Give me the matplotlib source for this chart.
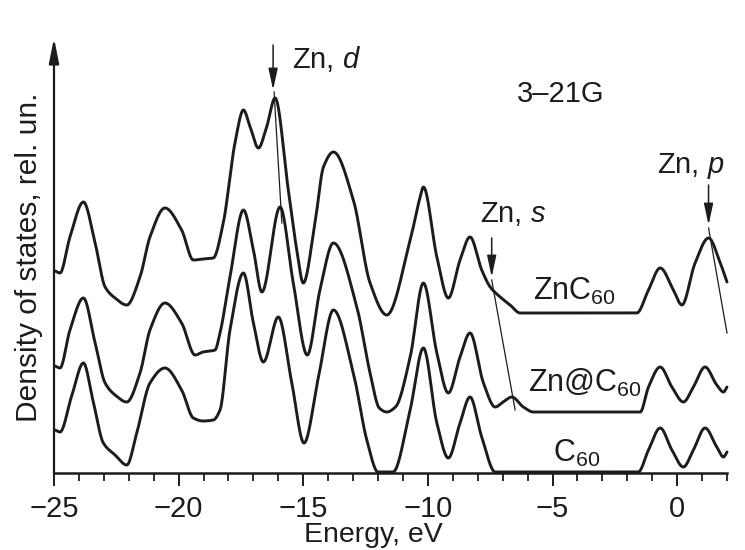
import numpy as np
import matplotlib
matplotlib.use('Agg')
import matplotlib.pyplot as plt
from matplotlib.ticker import MultipleLocator

plt.rcParams['font.family'] = 'Liberation Sans'
plt.rcParams['mathtext.fontset'] = 'custom'
plt.rcParams['mathtext.rm'] = 'Liberation Sans'
plt.rcParams['mathtext.it'] = 'Liberation Sans:italic'
plt.rcParams['mathtext.default'] = 'regular'

INK = '#1c1c1c'

# DOS curves (3-21G), sampled at peaks, troughs and flanks; energies in eV
energy_c60 = [-24.95, -24.76, -24.28, -23.82, -23.44, -23.02, -22.55, -22.08, -21.68, -21.15,
              -20.55, -19.88, -19.41, -19.02, -18.61, -18.34, -17.94, -17.40, -17.00, -16.60,
              -16.00, -15.46, -14.97, -14.39, -13.79, -12.99, -12.45, -12.00, -11.40, -10.72,
              -10.18, -9.64, -9.18, -8.71, -8.31, -7.84, -7.30, -1.56, -1.15, -0.68,
              -0.21, 0.25, 0.65, 1.12, 1.59, 1.86, 2.00]
dos_c60 = [4.3, 4.1, 7.8, 11.0, 7.3, 3.0, 1.8, 0.8, 4.0, 9.0,
           10.5, 8.3, 5.5, 5.2, 5.3, 6.3, 14.3, 20.0, 15.0, 11.1,
           15.6, 9.0, 3.0, 9.6, 16.3, 10.0, 3.3, 0.1, 0.1, 6.2,
           12.5, 5.0, 1.5, 5.0, 7.6, 3.6, 0.1, 0.1, 2.3, 4.5,
           2.3, 0.6, 2.3, 4.5, 2.6, 1.6, 2.1]

energy_zn_in = [-24.95, -24.76, -24.36, -23.82, -23.35, -22.95, -22.55, -22.08, -21.55, -21.15,
                -20.55, -19.88, -19.34, -19.02, -18.54, -18.34, -17.94, -17.40, -17.00, -16.66,
                -15.93, -15.40, -14.84, -14.33, -13.79, -12.85, -12.32, -11.95, -11.65, -11.30,
                -10.71, -10.18, -9.64, -9.18, -8.71, -8.31, -7.77, -7.30, -6.98, -6.63,
                -6.17, -5.77, -1.48, -1.15, -0.68, -0.21, 0.25, 0.65, 1.12, 1.59,
                1.86, 2.00]
dos_zn_in = [4.6, 4.4, 8.2, 11.4, 6.9, 2.9, 1.7, 1.0, 3.9, 8.2,
             10.9, 8.9, 5.7, 6.0, 6.2, 7.9, 13.5, 20.2, 16.2, 12.0,
             20.5, 12.9, 5.7, 12.2, 16.9, 10.5, 3.9, 0.4, 0.0, 0.5,
             5.5, 12.9, 5.9, 1.9, 5.5, 7.9, 2.9, 0.5, 1.0, 1.5,
             0.5, 0.0, 0.0, 2.5, 4.5, 2.5, 1.0, 2.5, 4.5, 2.7,
             2.0, 2.5]

energy_znc60 = [-24.95, -24.76, -24.36, -23.82, -23.35, -22.95, -22.55, -22.08, -21.55, -21.15,
                -20.55, -19.88, -19.41, -19.02, -18.61, -18.21, -17.74, -17.40, -17.13, -16.80,
                -16.47, -16.13, -15.60, -15.26, -15.00, -14.53, -14.19, -13.79, -12.99, -12.32,
                -11.65, -10.71, -10.31, -10.18, -9.64, -9.18, -8.71, -8.31, -7.84, -7.50,
                -7.10, -6.70, -6.30, -1.62, -1.15, -0.68, -0.15, 0.19, 0.72, 1.26,
                1.73, 2.00]
dos_znc60 = [4.2, 4.0, 7.6, 11.1, 7.0, 2.6, 1.5, 0.8, 3.6, 7.6,
             10.5, 8.3, 5.3, 5.4, 5.5, 9.0, 17.0, 20.3, 18.6, 16.5,
             18.6, 21.5, 12.3, 6.3, 3.0, 9.0, 14.6, 16.1, 11.3, 3.0,
             -0.2, 7.3, 11.6, 12.6, 5.6, 1.5, 5.3, 7.6, 4.3, 2.6,
             1.6, 0.8, 0.0, 0.0, 2.3, 4.5, 2.3, 0.8, 5.0, 7.5,
             5.0, 3.1]


def pchip(x, y, xs):
    # monotone cubic Hermite curve through the sampled points
    x = np.asarray(x, float)
    y = np.asarray(y, float)
    h = np.diff(x)
    d = np.diff(y) / h
    m = np.zeros_like(y)
    for k in range(1, len(x) - 1):
        if d[k - 1] * d[k] > 0:
            w1 = 2 * h[k] + h[k - 1]
            w2 = h[k] + 2 * h[k - 1]
            m[k] = (w1 + w2) / (w1 / d[k - 1] + w2 / d[k])
    m[0] = d[0]
    m[-1] = d[-1]
    i = np.clip(np.searchsorted(x, xs) - 1, 0, len(x) - 2)
    t = (xs - x[i]) / h[i]
    h00 = 2 * t**3 - 3 * t**2 + 1
    h10 = t**3 - 2 * t**2 + t
    h01 = -2 * t**3 + 3 * t**2
    h11 = t**3 - t**2
    return h00 * y[i] + h10 * h[i] * m[i] + h01 * y[i + 1] + h11 * h[i] * m[i + 1]


fig = plt.figure(figsize=(7.45, 5.5), dpi=100)
ax = fig.add_axes([54 / 745, 77 / 550, 673 / 745, 435 / 550])
ax.set_xlim(-25, 2.0)
ax.set_ylim(0, 43.5)

curves = [
    (energy_c60, dos_c60, 0.0),
    (energy_zn_in, dos_zn_in, 6.1),
    (energy_znc60, dos_znc60, 16.0),
]
for e, dos, shift in curves:
    xs = np.linspace(e[0], e[-1], 2000)
    ax.plot(xs, pchip(e, dos, xs) + shift, color=INK, lw=2.1,
            solid_capstyle='round', solid_joinstyle='round', clip_on=False)

# curve labels
ax.text(-5.78, 17.3, r'ZnC$_{60}$', fontsize=22, color=INK)
ax.text(-5.98, 8.1, r'Zn@C$_{60}$', fontsize=22, color=INK)
ax.text(-4.98, 1.15, r'C$_{60}$', fontsize=22, color=INK)

ax.text(-6.42, 37.1, '3–21G', fontsize=21, color=INK)

# Zn orbital markers and the lines tying them between ZnC60 and Zn@C60
arrow = dict(arrowstyle='-|>,head_length=1.3,head_width=0.28', color=INK,
             lw=1.1, shrinkA=0, shrinkB=0, mutation_scale=10)
ax.annotate('', xy=(-16.21, 38.3), xytext=(-16.21, 42.8), arrowprops=arrow)
ax.plot([-16.17, -15.86], [38.1, 25.0], color=INK, lw=0.9)
ax.text(-15.45, 40.5, r'Zn, $\mathit{d}$', fontsize=21, color=INK)

ax.annotate('', xy=(-7.44, 19.6), xytext=(-7.44, 23.5), arrowprops=arrow)
ax.plot([-7.44, -6.50], [19.3, 6.3], color=INK, lw=0.9)
ax.text(-7.91, 25.1, r'Zn, $\mathit{s}$', fontsize=21, color=INK)

ax.annotate('', xy=(1.26, 24.8), xytext=(1.26, 28.8), arrowprops=arrow)
ax.plot([1.26, 2.0], [24.5, 14.0], color=INK, lw=0.9, clip_on=False)
ax.text(-0.80, 30.0, r'Zn, $\mathit{p}$', fontsize=21, color=INK)

# axes: arrowed ordinate, ticked energy axis
for side in ['top', 'right', 'left']:
    ax.spines[side].set_visible(False)
ax.spines['bottom'].set_linewidth(1.8)
ax.spines['bottom'].set_color(INK)
ax.annotate('', xy=(0, 1.0), xycoords='axes fraction', xytext=(0, -0.002),
            arrowprops=dict(arrowstyle='-|>,head_length=1.5,head_width=0.3',
                            color=INK, lw=1.6, shrinkA=0, shrinkB=0,
                            mutation_scale=10))

ax.set_yticks([])
ax.xaxis.set_major_locator(MultipleLocator(5))
ax.xaxis.set_minor_locator(MultipleLocator(1))
ax.tick_params(axis='x', which='major', direction='out', length=9.5, width=1.4,
               color=INK, labelsize=21, pad=6, labelcolor=INK)
ax.tick_params(axis='x', which='minor', direction='out', length=5.5, width=1.3,
               color=INK)

ax.set_xlabel('Energy, eV', fontsize=20.5, color=INK, va='baseline')
ax.xaxis.set_label_coords(0.474, -0.159)
ax.set_ylabel('Density of states, rel. un.', fontsize=21.5, color=INK, va='baseline')
ax.yaxis.set_label_coords(-0.026, 0.497)

fig.savefig('out.png', dpi=100, facecolor='white')
